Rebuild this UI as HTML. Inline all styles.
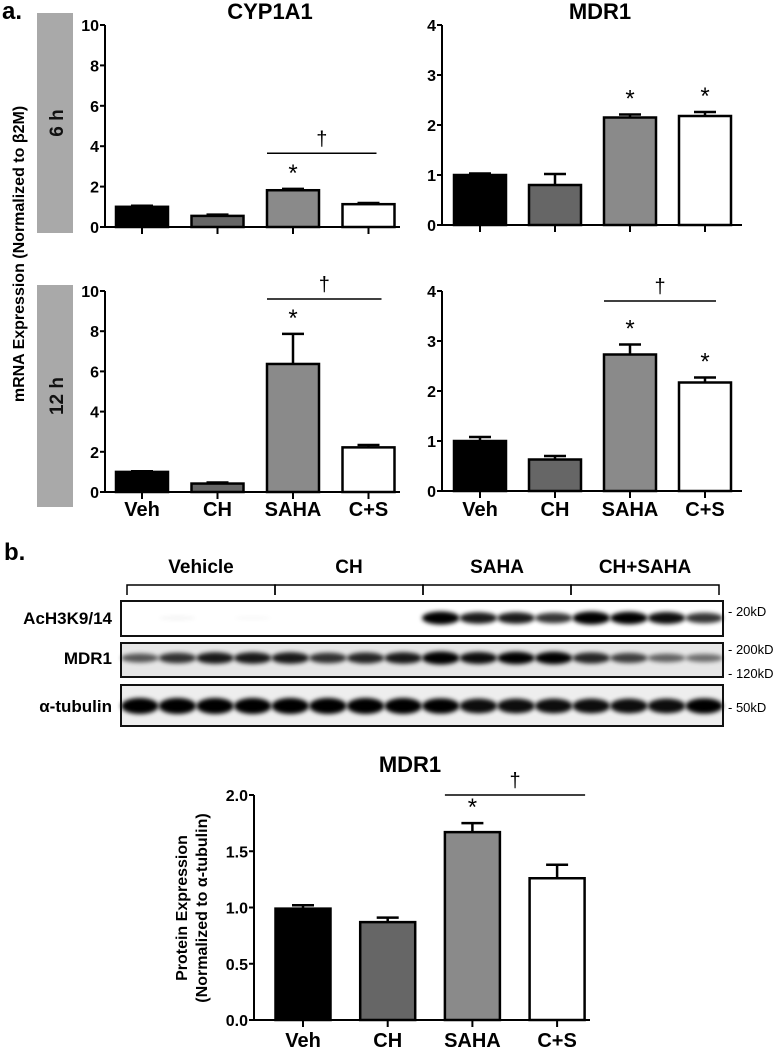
<!DOCTYPE html>
<html><head><meta charset="utf-8"><style>
body{margin:0;background:#fff;}
svg{display:block;font-family:"Liberation Sans",Arial,sans-serif;font-weight:bold;}
</style></head><body>
<svg id="fig" width="781" height="1050" viewBox="0 0 781 1050" xmlns="http://www.w3.org/2000/svg">
<defs>
<filter id="blur" x="-20%" y="-80%" width="140%" height="260%"><feGaussianBlur stdDeviation="2"/></filter>
</defs>
<text x="2" y="19" font-size="24">a.</text>
<text x="4" y="560" font-size="24">b.</text>
<rect x="37" y="13" width="36" height="220" fill="#a9a9a9"/>
<text transform="translate(63,123) rotate(-90)" text-anchor="middle" font-size="19" fill="#111">6 h</text>
<rect x="37" y="285" width="36" height="222" fill="#a9a9a9"/>
<text transform="translate(63,396) rotate(-90)" text-anchor="middle" font-size="19" fill="#111">12 h</text>
<text transform="translate(24,254) rotate(-90)" text-anchor="middle" font-size="16">mRNA Expression (Normalized to β2M)</text>
<g id="charts"></g>
<g id="blot"></g>
<text transform="translate(187,908) rotate(-90)" text-anchor="middle" font-size="16">Protein  Expression</text>
<text transform="translate(207,908) rotate(-90)" text-anchor="middle" font-size="16">(Normalized to α-tubulin)</text>
</svg>
<script>
const categories = ["Veh","CH","SAHA","C+S"];
const cyp6Values = [1.0, 0.55, 1.82, 1.13];
const cyp6Errors = [0.05, 0.06, 0.07, 0.06];
const mdr6Values = [1.0, 0.8, 2.15, 2.18];
const mdr6Errors = [0.03, 0.22, 0.06, 0.08];
const cyp12Values = [1.0, 0.42, 6.37, 2.22];
const cyp12Errors = [0.03, 0.05, 1.5, 0.12];
const mdr12Values = [1.0, 0.63, 2.73, 2.17];
const mdr12Errors = [0.08, 0.07, 0.2, 0.1];
const proteinValues = [0.99, 0.87, 1.67, 1.26];
const proteinErrors = [0.03, 0.04, 0.08, 0.12];
const cypTicks = [0,2,4,6,8,10];
const mdrTicks = [0,1,2,3,4];
const proteinTicks = ["0.0","0.5","1.0","1.5","2.0"];
const blotGroups = ["Vehicle","CH","SAHA","CH+SAHA"];
const acBands = [0,0.05,0,0.03,0,0,0,0,1,0.85,0.85,0.75,1,0.95,0.9,0.75];
const mdrBands = [0.6,0.75,0.85,0.85,0.85,0.75,0.8,0.85,1,0.9,0.95,0.95,0.8,0.7,0.55,0.5];
const tubBands = [1,1,1,1,1,1,1,1,0.95,0.9,0.9,0.9,0.9,0.9,0.9,0.95];

const NS="http://www.w3.org/2000/svg";
const fills=["#000","#666","#8a8a8a","#fff"];
function mk(tag,attrs,parent){const e=document.createElementNS(NS,tag);for(const k in attrs)e.setAttribute(k,attrs[k]);parent.appendChild(e);return e;}
const charts=document.getElementById('charts');

function chart(o){
  const g=mk('g',{},charts);
  
  
  const y=v=>o.y0-(v/o.max)*(o.y0-o.yTop);
  const x=i=>o.x0+o.first+i*o.step;
  if(o.title){const t=mk('text',{x:o.titleX,y:o.titleY,'text-anchor':'middle','font-size':22},g);t.textContent=o.title;
    
    }
  mk('line',{x1:o.x0,y1:o.yTop,x2:o.x0,y2:o.y0+1,stroke:'#000','stroke-width':2},g);
  mk('line',{x1:o.x0-1,y1:o.y0,x2:o.xEnd,y2:o.y0,stroke:'#000','stroke-width':2},g);
  o.ticks.forEach(tk=>{const v=parseFloat(tk);const yy=y(v);
    mk('line',{x1:o.x0-5,y1:yy,x2:o.x0,y2:yy,stroke:'#000','stroke-width':2},g);
    const t=mk('text',{x:o.x0-6,y:yy+6,'text-anchor':'end','font-size':16},g);t.textContent=tk;
    
    });
  o.values.forEach((v,i)=>{const cx=x(i);
    mk('line',{x1:cx,y1:o.y0,x2:cx,y2:o.y0+7,stroke:'#000','stroke-width':2},g);
    const top=y(v+o.errors[i]);
    mk('line',{x1:cx,y1:y(v),x2:cx,y2:top,stroke:'#000','stroke-width':2.5},g);
    mk('line',{x1:cx-11,y1:top,x2:cx+11,y2:top,stroke:'#000','stroke-width':2.5},g);
    const b=mk('rect',{x:cx-o.bw/2,y:y(v),width:o.bw,height:o.y0-y(v),fill:fills[i],stroke:'#000','stroke-width':2.5},g);
    
    
    if(o.stars.includes(i)){const s=mk('text',{x:cx,y:top-8,'text-anchor':'middle','font-size':24,'font-weight':'normal'},g);s.textContent='*';
      
      }
    if(o.labels){const t=mk('text',{x:cx,y:o.labelY,'text-anchor':'middle','font-size':20},g);t.textContent=categories[i];
      
      }
  });
  if(o.dag){const [l1,l2,ly]=o.dag;const yy=y(ly);
    const x1=x(l1)-o.bw/2, x2=x(l2)+o.dagEnd;
    mk('line',{x1:x1,y1:yy,x2:x2,y2:yy,stroke:'#000','stroke-width':1.5},g);
    const d=mk('text',{x:(x1+x2)/2,y:yy-8,'text-anchor':'middle','font-size':20,'font-weight':'normal'},g);d.textContent='†';
    
    }
}
chart({name:'cyp1a1-6h-chart',title:'CYP1A1',titleX:270,titleY:19,x0:105,xEnd:400,yTop:25,y0:227,max:10,first:37,step:75.5,bw:52,values:cyp6Values,errors:cyp6Errors,ticks:cypTicks.map(String),stars:[2],dag:[2,3,3.65],dagEnd:8});
chart({name:'mdr1-6h-chart',title:'MDR1',titleX:600,titleY:19,x0:442,xEnd:742,yTop:25,y0:225,max:4,first:38,step:75,bw:52,values:mdr6Values,errors:mdr6Errors,ticks:mdrTicks.map(String),stars:[2,3]});
chart({name:'cyp1a1-12h-chart',x0:105,xEnd:400,yTop:291,y0:492,max:10,first:37,step:75.5,bw:52,values:cyp12Values,errors:cyp12Errors,ticks:cypTicks.map(String),stars:[2],dag:[2,3,9.6],dagEnd:13,labels:true,labelY:516});
chart({name:'mdr1-12h-chart',x0:442,xEnd:742,yTop:291,y0:491,max:4,first:38,step:75,bw:52,values:mdr12Values,errors:mdr12Errors,ticks:mdrTicks.map(String),stars:[2,3],dag:[2,3,3.8],dagEnd:11,labels:true,labelY:516});
chart({name:'protein-mdr1-chart',title:'MDR1',titleX:410,titleY:772,x0:254,xEnd:590,yTop:795,y0:1020,max:2,first:49,step:84.7,bw:55,values:proteinValues,errors:proteinErrors,ticks:proteinTicks,stars:[2],dag:[2,3,2.0],dagEnd:28,labels:true,labelY:1047});

// blot
const blot=document.getElementById('blot');
const bx0=121,bx1=723,lw=(bx1-bx0)/16;
blotGroups.forEach((gname,i)=>{const l=127+i*148,r=l+148;
  const t=mk('text',{x:(l+r)/2,y:573,'text-anchor':'middle','font-size':19},blot);t.textContent=gname;
  
  
  mk('polyline',{points:`${l},595 ${l},585 ${r},585 ${r},595`,fill:'none',stroke:'#000','stroke-width':1.5},blot);
});
const rows=[{n:'AcH3K9/14',y:601,h:35,bg:'#fff',bands:acBands,bh:5,cy:618},{n:'MDR1',y:643,h:34,bg:'#e6e6e6',bands:mdrBands,bh:5,cy:658},{n:'α-tubulin',y:685,h:41,bg:'#eeeeee',bands:tubBands,bh:6.5,cy:706}];
rows.forEach(r=>{
  const lab=mk('text',{x:112,y:r.cy+6,'text-anchor':'end','font-size':17},blot);lab.textContent=r.n;
  
  
  const box=mk('rect',{x:bx0,y:r.y,width:bx1-bx0,height:r.h,fill:r.bg,stroke:'#111','stroke-width':2},blot);
  
  
  r.bands.forEach((v,i)=>{if(v<=0)return;
    const e=mk('ellipse',{cx:bx0+lw*(i+0.5),cy:r.cy,rx:lw*0.5,ry:r.bh*v+1.5,fill:'#000',opacity:Math.min(1,v*1.05),filter:'url(#blur)'},blot);
    
    });
});
[['- 20kD',611],['- 200kD',649],['- 120kD',673],['- 50kD',707]].forEach(([s,yy])=>{
  const t=mk('text',{x:728,y:yy+5,'font-size':13,'font-weight':'normal'},blot);t.textContent=s;
  
  });
</script>
</body></html>
